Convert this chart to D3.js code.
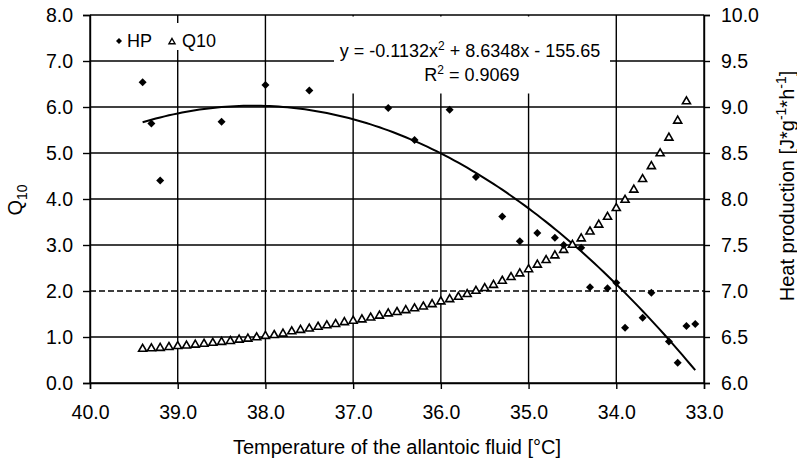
<!DOCTYPE html>
<html><head><meta charset="utf-8">
<script src="https://cdn.jsdelivr.net/npm/d3@7"></script>
<style>
body{margin:0;background:#fff}
svg{display:block}
text{font-family:"Liberation Sans",Arial,Helvetica,sans-serif;fill:#000}
</style>
</head><body>
<svg id="c" width="797" height="469"></svg>
<script>
// ---- data ----
const hpTemps  = [39.4,39.3,39.2,38.5,38.0,37.5,36.6,36.3,35.9,35.6,35.3,35.1,34.9,34.7,34.6,34.4,34.3,34.1,34.0,33.9,33.7,33.6,33.4,33.3,33.2,33.1];
const hpValues = [9.27,8.82,8.20,8.84,9.24,9.18,8.99,8.64,8.97,8.24,7.81,7.54,7.63,7.58,7.50,7.47,7.04,7.03,7.09,6.60,6.71,6.98,6.45,6.22,6.62,6.64];
const q10Temps = [39.4,39.3,39.2,39.1,39.0,38.9,38.8,38.7,38.6,38.5,38.4,38.3,38.2,38.1,38.0,37.9,37.8,37.7,37.6,37.5,37.4,37.3,37.2,37.1,37.0,36.9,36.8,36.7,36.6,36.5,36.4,36.3,36.2,36.1,36.0,35.9,35.8,35.7,35.6,35.5,35.4,35.3,35.2,35.1,35.0,34.9,34.8,34.7,34.6,34.5,34.4,34.3,34.2,34.1,34.0,33.9,33.8,33.7,33.6,33.5,33.4,33.3,33.2];
const q10Values = [0.74,0.75,0.76,0.78,0.80,0.81,0.83,0.85,0.87,0.89,0.91,0.94,0.96,0.99,1.02,1.04,1.07,1.12,1.15,1.18,1.22,1.25,1.28,1.32,1.35,1.38,1.42,1.46,1.51,1.54,1.58,1.62,1.66,1.71,1.77,1.82,1.87,1.93,2.00,2.06,2.13,2.22,2.30,2.38,2.47,2.57,2.67,2.77,2.89,3.00,3.14,3.29,3.44,3.61,3.80,3.98,4.20,4.43,4.71,4.99,5.33,5.70,6.12];
const trendCoef = [-0.1132, 8.6348, -155.65]; // a x^2 + b x + c
const xTicks = [40,39,38,37,36,35,34,33];
const leftTicks = [0,1,2,3,4,5,6,7,8];
const rightTicks = [6.0,6.5,7.0,7.5,8.0,8.5,9.0,9.5,10.0];

// ---- layout ----
const L = 90, R = 704, T = 15, B = 383;
const svg = d3.select("#c");
const x = d3.scaleLinear().domain([40,33]).range([L,R]);
const yL = d3.scaleLinear().domain([0,8]).range([B,T]);
const yR = d3.scaleLinear().domain([6,10]).range([B,T]);
const fmt = d3.format(".1f");
const SW = 1.4;

// gridlines
const grid = svg.append("g");
leftTicks.forEach(v => {
  grid.append("line").attr("x1",L).attr("x2",R).attr("y1",yL(v)).attr("y2",yL(v))
    .attr("stroke","#000").attr("stroke-width",SW)
    .attr("stroke-dasharray", v===2 ? "6,3" : null);
});
xTicks.forEach(v => {
  grid.append("line").attr("x1",x(v)).attr("x2",x(v)).attr("y1",T).attr("y2",B)
    .attr("stroke","#000").attr("stroke-width",SW);
});

// axes
const axB = svg.append("g").attr("transform",`translate(0,${B})`)
  .call(d3.axisBottom(x).tickValues(xTicks).tickFormat(fmt).tickSize(6).tickPadding(16));
const axL = svg.append("g").attr("transform",`translate(${L},0)`)
  .call(d3.axisLeft(yL).tickValues(leftTicks).tickFormat(fmt).tickSize(7).tickPadding(10));
const axR = svg.append("g").attr("transform",`translate(${R},0)`)
  .call(d3.axisRight(yR).tickValues(rightTicks).tickFormat(fmt).tickSize(6).tickPadding(11));
[axB,axL,axR].forEach(a=>{
  a.selectAll("path").attr("stroke","#000").attr("stroke-width",SW);
  a.selectAll("line").attr("stroke","#000").attr("stroke-width",SW);
  a.selectAll("text").style("font-size","19.5px");
  a.attr("font-family",null).attr("font-size",null);
});

// white boxes for legend and equation
svg.append("rect").attr("x",96).attr("y",23).attr("width",150).attr("height",27).attr("fill","#fff");
svg.append("rect").attr("x",334).attr("y",T+1.5).attr("width",276).attr("height",77).attr("fill","#fff");

// trendline
const tr = d3.range(39.4, 33.1-0.001, -0.05).concat([33.1]);
const poly = t => trendCoef[0]*t*t + trendCoef[1]*t + trendCoef[2];
svg.append("path").datum(tr)
  .attr("d", d3.line().x(t=>x(t)).y(t=>yR(poly(t))))
  .attr("fill","none").attr("stroke","#000").attr("stroke-width",2);

// Q10 triangles
const tri = d3.symbol().type(d3.symbolTriangle).size(28);
svg.append("g").selectAll("path").data(q10Temps).join("path")
  .attr("d", tri)
  .attr("transform",(t,i)=>`translate(${x(t)},${yL(q10Values[i])})`)
  .attr("fill","#fff").attr("stroke","#000").attr("stroke-width",1.6);

// HP diamonds
const dia = d3.symbol().type(d3.symbolSquare).size(32);
svg.append("g").selectAll("path").data(hpTemps).join("path")
  .attr("d", dia)
  .attr("transform",(t,i)=>`translate(${x(t)},${yR(hpValues[i])}) rotate(45)`)
  .attr("fill","#000");

// legend
svg.append("path").attr("d", d3.symbol().type(d3.symbolSquare).size(18))
  .attr("transform","translate(119,41) rotate(45)").attr("fill","#000");
svg.append("text").attr("x",127).attr("y",47).style("font-size","18px").text("HP");
svg.append("path").attr("d", d3.symbol().type(d3.symbolTriangle).size(16))
  .attr("transform","translate(172,42)").attr("fill","#fff").attr("stroke","#000").attr("stroke-width",1.4);
svg.append("text").attr("x",182).attr("y",47).style("font-size","18px").text("Q10");

// equation
const eq = svg.append("text").attr("x",470).attr("y",57).attr("text-anchor","middle").style("font-size","18px");
eq.append("tspan").text("y = -0.1132x");
eq.append("tspan").attr("dy",-7).style("font-size","12px").text("2");
eq.append("tspan").attr("dy",7).text(" + 8.6348x - 155.65");
const r2 = svg.append("text").attr("x",472).attr("y",81).attr("text-anchor","middle").style("font-size","18px");
r2.append("tspan").text("R");
r2.append("tspan").attr("dy",-7).style("font-size","12px").text("2");
r2.append("tspan").attr("dy",7).text(" = 0.9069");

// axis titles
svg.append("text").attr("x",397).attr("y",454).attr("text-anchor","middle")
  .style("font-size","20px").text("Temperature of the allantoic fluid [°C]");
const qt = svg.append("text").attr("transform","translate(22,200) rotate(-90)")
  .attr("text-anchor","middle").style("font-size","20px");
qt.append("tspan").text("Q");
qt.append("tspan").attr("dy",5).style("font-size","14px").text("10");
const rt = svg.append("text").attr("transform","translate(794,186) rotate(-90)")
  .attr("text-anchor","middle").style("font-size","20px");
rt.append("tspan").text("Heat production  [J*g");
rt.append("tspan").attr("dy",-8).style("font-size","14px").text("-1");
rt.append("tspan").attr("dy",8).text("*h");
rt.append("tspan").attr("dy",-8).style("font-size","14px").text("-1");
rt.append("tspan").attr("dy",8).text("]");
</script>
</body></html>
